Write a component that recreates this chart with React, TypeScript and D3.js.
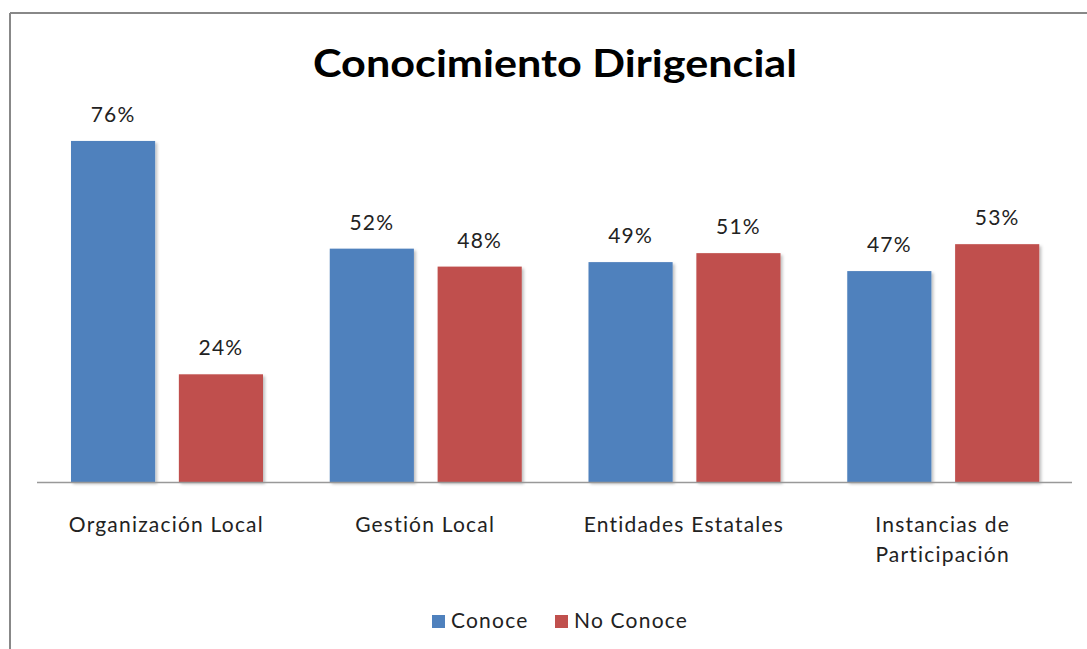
import React from "react";
import * as d3 from "d3";

const categories: string[][] = [
  ["Organización Local"],
  ["Gestión Local"],
  ["Entidades Estatales"],
  ["Instancias de", "Participación"],
];
const seriesNames = ["Conoce", "No Conoce"];
const conoce = [0.76, 0.52, 0.49, 0.47];
const noConoce = [0.24, 0.48, 0.51, 0.53];
const colors = ["#4F81BD", "#C0504D"];
const title = "Conocimiento Dirigencial";

const W = 1087;
const H = 649;
const FONT = "Lato, 'Open Sans', sans-serif";
const LS = 1.2;

export default function App() {
  const x0 = d3
    .scaleBand<number>()
    .domain(categories.map((_, i) => i))
    .range([37, 1072]);
  const x1 = d3
    .scaleBand<number>()
    .domain([0, 1])
    .range([34, 226])
    .paddingInner(0.22);
  const y = d3.scaleLinear().domain([0, 0.8]).range([482, 123]);
  const values = [conoce, noConoce];
  const fmt = d3.format(".0%");

  return (
    <svg
      width={W}
      height={H}
      style={{ position: "absolute", left: 0, top: 0, background: "#fff" }}
      fontFamily={FONT}
    >
      <defs>
        <filter id="sh" x="-20%" y="-20%" width="140%" height="140%">
          <feDropShadow dx="2" dy="2" stdDeviation="1.5" floodColor="#000" floodOpacity="0.25" />
        </filter>
      </defs>
      <rect x={0} y={0} width={W} height={H} fill="#fff" />
      <line x1={10} y1={13} x2={W} y2={13} stroke="#888" strokeWidth={2} />
      <line x1={10} y1={13} x2={10} y2={H} stroke="#888" strokeWidth={2} />
      <text
        x={555}
        y={77}
        textAnchor="middle"
        fontSize={38}
        fontWeight="bold"
        fill="#000"
        textLength={484}
        lengthAdjust="spacingAndGlyphs"
      >
        {title}
      </text>
      {categories.map((cat, i) =>
        values.map((vals, s) => {
          const bx = (x0(i) as number) + (x1(s) as number);
          const v = vals[i];
          return (
            <g key={`${i}-${s}`}>
              <rect
                x={bx}
                y={y(v)}
                width={x1.bandwidth()}
                height={y(0) - y(v)}
                fill={colors[s]}
                filter="url(#sh)"
              />
              <text
                x={bx + x1.bandwidth() / 2}
                y={y(v) - 19}
                textAnchor="middle"
                fontSize={21}
                letterSpacing={LS}
                fill="#222"
              >
                {fmt(v)}
              </text>
            </g>
          );
        })
      )}
      <line x1={37} y1={482.5} x2={1072} y2={482.5} stroke="#999" strokeWidth={1.5} />
      {categories.map((cat, i) => (
        <text
          key={`c${i}`}
          x={(x0(i) as number) + x0.bandwidth() / 2}
          y={532}
          textAnchor="middle"
          fontSize={21}
          letterSpacing={LS}
          fill="#222"
        >
          {cat.map((line, j) => (
            <tspan key={j} x={(x0(i) as number) + x0.bandwidth() / 2} dy={j === 0 ? 0 : 30}>
              {line}
            </tspan>
          ))}
        </text>
      ))}
      {seriesNames.map((name, s) => {
        const lx = s === 0 ? 432 : 555;
        return (
          <g key={name}>
            <rect x={lx} y={615} width={13} height={13} fill={colors[s]} />
            <text x={lx + 19} y={628} fontSize={21} letterSpacing={LS} fill="#222">
              {name}
            </text>
          </g>
        );
      })}
    </svg>
  );
}
